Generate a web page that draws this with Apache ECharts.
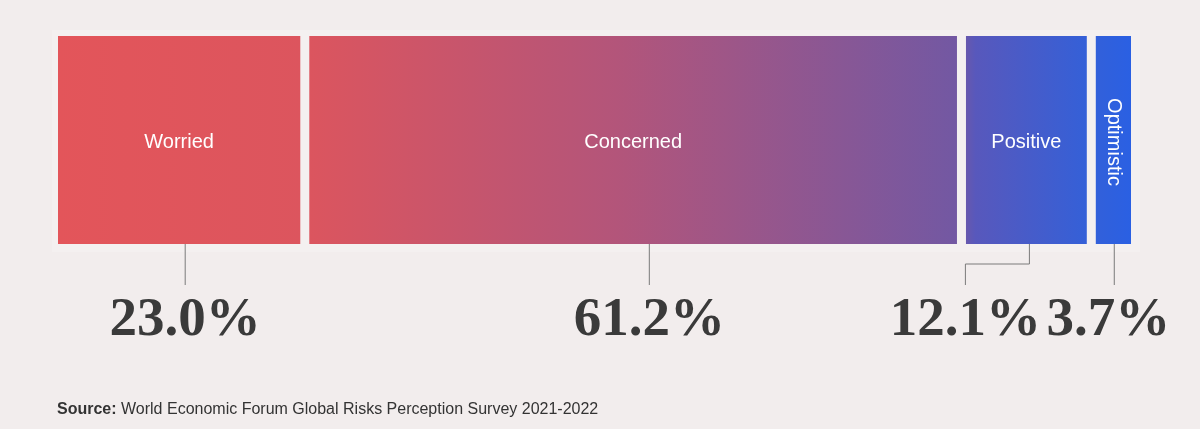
<!DOCTYPE html>
<html>
<head>
<meta charset="utf-8">
<script src="https://cdn.jsdelivr.net/npm/echarts@6/dist/echarts.min.js"></script>
<style>
  html, body { margin: 0; padding: 0; background: #f2eded; }
  #chart { width: 1200px; height: 429px; }
</style>
</head>
<body>
<div id="chart"></div>
<script>
// ---- data ----
const categories = ['Worried', 'Concerned', 'Positive', 'Optimistic'];
const shares = [23.0, 61.2, 12.1, 3.7];
const shareLabels = ['23.0%', '61.2%', '12.1%', '3.7%'];
const sourceLabel = 'Source:';
const sourceText = 'World Economic Forum Global Risks Perception Survey 2021-2022';

// ---- build stacked segments [start, end, index] ----
const segments = [];
let acc = 0;
shares.forEach((v, i) => { segments.push([acc, acc + v, i]); acc += v; });
const total = acc;

const gradientStops = [
  { offset: 0.00, color: '#e3555a' },
  { offset: 0.23, color: '#dc555e' },
  { offset: 0.52, color: '#b3557a' },
  { offset: 0.84, color: '#7258a3' },
  { offset: 0.855, color: '#5858bc' },
  { offset: 0.96, color: '#3460d8' },
  { offset: 1.00, color: '#2a60e3' }
];
const labelDx = [0, 0, -64, -6];   // layout shifts of the % labels (px)
const GAP = 4.5;

const chart = echarts.init(document.getElementById('chart'));

function renderItem(params, api) {
  const x0 = api.value(0), x1 = api.value(1), i = api.value(2);
  const pTL = api.coord([x0, 1]);
  const pBR = api.coord([x1, 0]);
  const gx0 = api.coord([0, 0])[0];
  const gx1 = api.coord([total, 0])[0];
  const left = pTL[0] + (i === 0 ? 0 : GAP);
  const right = pBR[0] - (i === categories.length - 1 ? 0 : GAP);
  const top = pTL[1], bottom = pBR[1];
  const w = right - left, h = bottom - top;
  const cx = left + w / 2, cy = top + h / 2;
  const vertical = w < 60;

  const children = [
    {
      type: 'rect',
      shape: { x: left, y: top, width: w, height: h },
      style: {
        fill: { type: 'linear', x: gx0, y: 0, x2: gx1, y2: 0, global: true, colorStops: gradientStops }
      }
    },
    {
      type: 'text',
      x: cx, y: cy + 2,
      rotation: vertical ? -Math.PI / 2 : 0,
      style: {
        text: categories[i], x: 0, y: 0,
        fill: '#ffffff',
        font: '20px "Liberation Sans", Arial, sans-serif',
        align: 'center', verticalAlign: 'middle'
      }
    }
  ];

  const lx = left + w * 0.525;
  const lineBottom = bottom + 41;
  const labelX = lx + labelDx[i];
  let points;
  if (Math.abs(labelDx[i]) > 20) {
    const bend = bottom + 20;
    points = [[lx, bottom], [lx, bend], [labelX, bend], [labelX, lineBottom]];
  } else {
    points = [[lx, bottom], [lx, lineBottom]];
  }
  children.push({
    type: 'polyline',
    shape: { points: points },
    style: { stroke: '#7a7a7a', lineWidth: 1, fill: null }
  });
  children.push({
    type: 'text',
    x: labelX, y: lineBottom + 36,
    style: {
      text: shareLabels[i], x: 0, y: 0,
      fill: '#3a3a3a',
      font: 'bold 55px "Liberation Serif", "Times New Roman", serif',
      align: 'center', verticalAlign: 'middle'
    }
  });
  return { type: 'group', children: children };
}

chart.setOption({
  backgroundColor: '#f2eded',
  animation: false,
  graphic: [{
    type: 'rect', z: -10, silent: true,
    shape: { x: 52, y: 30, width: 1088, height: 222 },
    style: { fill: '#f4f0f0' }
  }],
  title: {
    left: 52, top: 397,
    text: '{b|' + sourceLabel + '} ' + sourceText,
    textStyle: {
      fontSize: 16, fontWeight: 'normal', color: '#333333',
      fontFamily: '"Liberation Sans", Arial, sans-serif',
      rich: { b: { fontWeight: 'bold', fontSize: 16, color: '#333333', fontFamily: '"Liberation Sans", Arial, sans-serif' } }
    }
  },
  grid: { left: 58, right: 69, top: 36, bottom: 185 },
  xAxis: { type: 'value', min: 0, max: total, show: false },
  yAxis: { type: 'value', min: 0, max: 1, show: false },
  series: [{
    type: 'custom',
    renderItem: renderItem,
    clip: false,
    encode: { x: [0, 1], y: 2 },
    data: segments
  }]
});
</script>
</body>
</html>
